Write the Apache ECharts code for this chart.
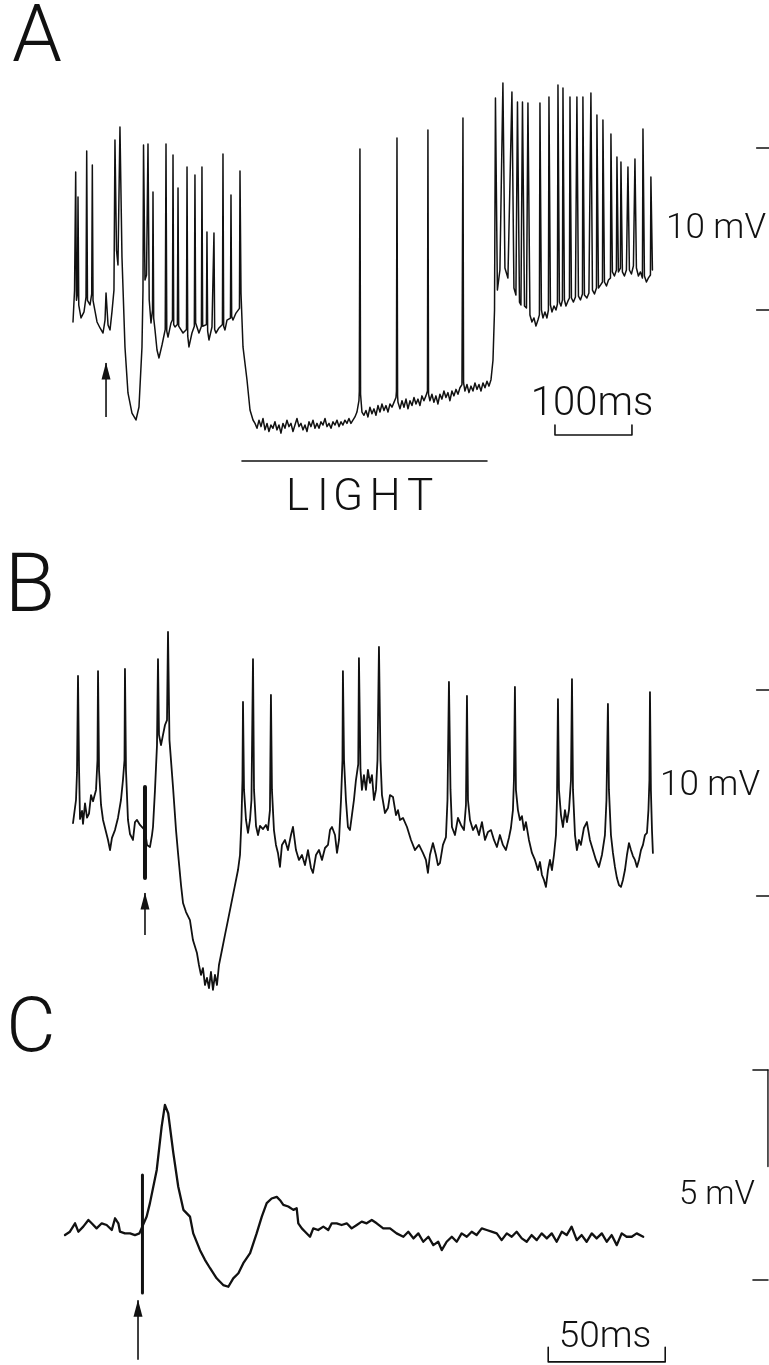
<!DOCTYPE html>
<html>
<head>
<meta charset="utf-8">
<script src="https://cdn.jsdelivr.net/npm/echarts@6/dist/echarts.min.js"></script>
<style>
  html, body { margin: 0; padding: 0; background: #fff; }
  #chart { width: 769px; height: 1365px; }
</style>
</head>
<body>
<div id="chart"></div>
<script>
// ---------- Panel A: membrane potential before, during and after light (t in ms, V in mV) ----------
const traceA = [
  [0,-0.74],[2.0,1.2],[3.5,8.52],[4.5,0.6],[5.8,1.0],[6.5,6.98],[7.5,0.3],[10.4,-0.49],[14.3,-0.12],
  [16.9,0.8],[17.8,9.81],[18.8,0.6],[22.1,0.31],[24.3,1.0],[25.1,8.95],[26.0,0.6],[31.2,-0.74],
  [35.1,-1.11],[39.0,-1.42],[41.6,-0.62],[42.9,1.05],[45.5,-0.93],[48.1,-1.23],[50.6,-0.12],[53.2,1.23],
  [54.5,10.49],[56.5,3.70],[58.4,2.78],[61.0,11.30],[63.6,3.27],[67.5,-2.28],[71.4,-5.12],[76.6,-6.36],
  [81.8,-6.79],[85.7,-5.99],[89.6,-2.28],[90.9,1.23],[91.6,10.19],[93.5,1.85],[95.5,2.16],[97.4,10.25],
  [99.0,0.62],[101.3,-0.80],[103.3,0.0],[103.9,7.28],[104.8,-0.5],[106.5,-1.23],[109.1,-2.47],[111.7,-2.96],
  [115.6,-2.16],[119.8,-1.2],[120.8,10.25],[121.8,-1.3],[123.4,-1.67],[127.3,-0.80],[129.2,-0.6],[129.9,9.57],
  [130.8,-0.9],[132.5,-1.05],[135.6,-0.9],[136.4,7.53],[137.3,-1.0],[139.0,-1.11],[142.9,-1.42],[147.4,-1.2],
  [148.1,8.83],[149.0,-1.6],[150.6,-2.28],[154.5,-1.42],[157.6,-1.0],[158.4,8.33],[159.3,-0.8],[161.0,-0.80],
  [163.6,-1.42],[166.8,-1.0],[167.5,8.83],[168.4,-1.0],[170.1,-1.05],[173.3,-0.9],[174.0,4.81],[174.9,-1.3],
  [176.6,-1.85],[180.5,-1.05],[182.4,-1.0],[183.1,4.75],[184.0,-1.2],[185.7,-1.42],[189.6,-1.11],[194.1,-0.9],
  [194.8,9.63],[195.7,-1.0],[197.4,-1.23],[200.0,-0.62],[204.5,-0.5],[205.2,7.10],[206.1,-0.4],[207.8,-0.62],
  [211.7,-0.19],[216.2,0.1],[216.9,8.58],[218.2,1.05],[220.8,-2.28],[226.0,-4.32],[229.9,-6.17],[233.8,-6.79],
  [236.4,-7.0],[239.0,-7.3],[241.6,-6.8],[244.2,-7.2],[246.8,-6.7],[249.4,-7.4],[252.0,-7.0],[254.5,-7.5],
  [257.1,-7.1],[259.7,-7.3],[262.3,-6.9],[264.9,-7.4],[267.5,-7.1],[270.1,-7.6],[272.7,-7.0],[275.3,-7.3],
  [277.9,-6.8],[280.5,-7.2],[283.1,-7.0],[285.7,-7.5],[288.3,-7.1],[290.9,-6.7],[293.5,-7.2],[296.1,-7.0],
  [298.7,-7.4],[301.3,-7.1],[303.9,-7.5],[306.5,-6.9],[309.1,-7.2],[311.7,-6.8],[314.3,-7.3],[316.9,-7.0],
  [319.5,-7.3],[322.1,-6.9],[324.7,-7.1],[327.3,-6.7],[329.9,-7.2],[332.5,-7.0],[335.1,-7.3],[337.7,-6.9],
  [340.3,-7.1],[342.9,-6.8],[345.5,-7.2],[348.1,-6.9],[350.6,-7.1],[353.2,-6.8],[355.8,-7.0],[358.4,-6.7],
  [361.0,-7.0],[363.6,-6.8],[366.2,-6.6],[368.8,-6.3],[371.4,-5.6],[371.9,-5.0],[372.7,9.94],[373.5,-5.2],
  [375.3,-6.3],[377.9,-6.5],[380.5,-6.2],[383.1,-6.6],[385.7,-6.0],[388.3,-6.4],[390.9,-6.1],[393.5,-6.5],
  [396.1,-5.9],[398.7,-6.3],[401.3,-5.8],[403.9,-6.2],[406.5,-5.9],[409.1,-6.3],[411.7,-5.8],[414.3,-6.0],
  [416.9,-5.7],[419.5,-5.4],[420.1,-5.0],[420.8,10.62],[421.6,-5.3],[422.1,-5.7],[424.7,-6.1],[427.3,-5.6],
  [429.9,-6.0],[432.5,-5.5],[435.1,-6.1],[437.7,-5.6],[440.3,-5.9],[442.9,-5.4],[445.5,-5.8],[448.1,-5.5],
  [450.6,-5.9],[453.2,-5.3],[455.8,-5.6],[458.4,-5.3],[460.4,-5.0],[461.0,11.11],[461.8,-5.2],[463.6,-5.6],
  [466.2,-5.2],[468.8,-5.7],[471.4,-5.3],[474.0,-5.8],[476.6,-5.2],[479.2,-5.5],[481.8,-5.0],[484.4,-5.4],
  [487.0,-5.1],[489.6,-5.6],[492.2,-5.0],[494.8,-5.3],[497.4,-4.9],[500.0,-5.2],[502.6,-4.8],[505.2,-4.6],
  [506.5,11.85],[507.3,-4.5],[509.1,-5.0],[511.7,-4.6],[514.3,-5.1],[516.9,-4.7],[519.5,-5.0],[522.1,-4.5],
  [524.7,-4.9],[527.3,-4.6],[529.9,-5.0],[532.5,-4.5],[535.1,-4.8],[537.7,-4.4],[540.3,-4.7],[542.9,-4.3],
  [545.5,-3.1],[547.5,0.0],[548.7,13.09],[551.2,1.23],[554.5,2.47],[558.4,14.01],[561.0,2.59],[564.9,1.98],
  [570.1,13.46],[572.7,1.36],[575.3,0.93],[577.3,12.84],[579.9,0.49],[581.8,0.31],[583.8,12.84],[586.4,0.25],
  [589.0,0.12],[590.9,12.78],[593.5,-0.31],[596.1,-0.74],[598.7,-0.49],[601.3,-0.99],[603.9,-0.62],[605.8,-0.3],
  [606.5,12.78],[608.4,0.0],[610.4,-0.49],[613.0,-0.12],[615.6,-0.49],[617.5,0.0],[618.2,13.15],[620.1,0.31],
  [622.1,-0.12],[624.7,0.25],[627.3,0],[629.2,0.37],[629.9,13.89],[631.8,0.49],[633.8,0.25],[635.7,0.62],
  [636.4,13.70],[638.3,0.62],[640.3,0.25],[642.9,0.56],[644.8,0.74],[645.5,13.15],[647.4,0.74],[650.0,0.49],
  [652.6,0.80],[653.9,0.86],[654.5,13.15],[656.5,0.86],[659.1,0.62],[661.7,0.99],[662.3,13.15],[664.3,0.93],
  [667.5,0.74],[670.1,1.05],[672.1,1.11],[672.7,13.40],[674.7,1.23],[677.3,0.99],[679.9,1.36],[680.5,12.04],
  [682.5,1.36],[685.1,1.54],[687.7,1.73],[688.3,11.73],[690.3,1.73],[692.9,1.48],[695.5,1.85],[698.1,1.98],
  [698.7,10.86],[700.6,2.35],[703.2,2.10],[705.8,2.47],[706.5,9.44],[708.4,2.35],[711.0,2.59],[711.7,9.14],
  [713.6,2.35],[716.2,2.10],[718.8,2.47],[720.8,8.83],[722.7,2.47],[725.3,2.22],[727.9,2.72],[729.9,9.32],
  [731.8,2.59],[734.4,2.10],[737.0,2.35],[739.6,1.98],[740.3,11.17],[742.2,2.10],[744.8,1.73],[747.4,1.98],
  [750.0,2.16],[750.6,8.21],[752.6,2.47]
];
const stimA = [42.9, -6.6, -3.27];          // time, arrow tail, arrow tip
const lightA = [219.5, 537.7];              // light on / off (ms)
const lightBarV = -9.32;
const voltTicksA = [0, 10];                 // 10 mV calibration
const voltTickSpanA = [888, 904];
const timeBarA = [626, 726];                // 100 ms calibration
const timeBarVA = [-7.72, -7.1];

// ---------- Panel B: response to a single stimulus during spontaneous firing ----------
const traceB = [
  [0,3.54],[3.9,4.66],[5.2,6.0],[6.5,10.68],[7.8,6.3],[9.1,3.74],[11.7,4.13],[13.0,3.5],[15.6,4.5],[18.2,3.8],
  [20.8,4.0],[23.4,4.9],[26.0,4.6],[29.9,5.15],[31.8,6.60],[32.5,10.92],[33.8,6.12],[36.4,4.42],[39.0,3.69],
  [42.9,3.11],[45.5,2.72],[48.1,2.23],[50.6,2.82],[54.5,3.20],[58.4,3.79],[62.3,4.66],[64.9,5.63],[66.9,6.60],
  [67.5,11.02],[68.8,6.12],[71.4,3.69],[74.0,3.01],[77.9,2.72],[80.5,3.59],[83.1,3.69],[87.0,3.45],[90.9,3.30],
  [93.5,3.2],[96.1,2.48],[100.0,2.38],[102.6,2.96],[103.9,3.35],[106.5,5.15],[109.1,7.33],[110.4,11.50],
  [111.7,7.82],[114.3,7.33],[116.9,7.82],[119.5,8.30],[122.1,8.54],[123.4,12.82],[125.3,7.57],[129.9,5.29],
  [133.8,3.20],[136.4,2.09],[140.3,0.53],[142.9,-0.34],[146.8,-0.78],[151.9,-1.17],[155.8,-2.14],[161.0,-2.77],
  [163.6,-3.35],[166.2,-3.83],[168.8,-3.50],[171.4,-4.32],[174.0,-3.98],[176.6,-4.47],[179.2,-3.69],[181.8,-4.56],
  [184.4,-3.83],[187.0,-4.32],[189.6,-3.35],[193.5,-2.62],[197.4,-1.89],[201.3,-1.17],[205.2,-0.44],[210.4,0.53],
  [214.3,1.26],[216.9,1.99],[218.8,3.69],[220.1,5.63],[220.8,9.42],[222.1,5.15],[224.7,3.69],[227.3,3.06],
  [229.9,3.69],[231.8,4.66],[233.8,11.50],[235.1,5.15],[237.7,3.40],[240.3,2.96],[242.9,3.40],[246.8,3.25],
  [250.6,3.45],[253.2,3.20],[255.8,4.17],[257.1,9.76],[258.4,5.15],[261.0,3.20],[263.6,2.48],[266.2,2.09],
  [268.8,1.41],[271.4,2.48],[275.3,2.72],[279.2,2.23],[283.1,2.96],[285.7,3.35],[289.6,2.23],[293.5,1.75],
  [297.4,1.99],[301.3,1.50],[305.2,2.23],[309.1,1.36],[311.7,1.12],[315.6,1.99],[319.5,2.23],[323.4,1.75],
  [327.3,2.33],[331.2,2.48],[333.8,3.20],[336.4,3.35],[340.3,2.96],[342.9,2.09],[345.5,2.72],[348.1,4.66],
  [350.0,6.60],[350.6,10.92],[352.0,6.60],[354.5,4.66],[357.1,3.35],[359.7,3.20],[362.3,3.93],[364.9,4.66],
  [367.5,5.63],[370.5,6.4],[371.4,11.55],[373.4,6.12],[375.3,5.15],[377.9,5.87],[380.5,5.15],[383.1,6.12],
  [385.7,5.49],[388.3,5.87],[390.9,4.66],[393.5,5.15],[395.5,6.60],[397.4,12.09],[399.4,6.60],[401.3,4.90],
  [405.2,4.03],[409.1,4.27],[411.7,4.90],[415.6,4.81],[419.5,3.93],[422.1,4.17],[424.7,3.69],[428.6,3.79],
  [433.8,3.35],[439.0,2.72],[444.2,2.23],[449.4,2.48],[454.5,2.09],[458.4,1.75],[461.0,1.12],[463.6,1.99],
  [467.5,2.57],[471.4,1.99],[474.0,1.50],[476.6,1.60],[480.5,2.48],[484.4,2.86],[486.4,4.66],[488.3,10.39],
  [490.3,5.15],[492.2,3.35],[496.1,2.96],[500.0,3.79],[503.9,3.45],[507.8,3.20],[510.4,4.42],[511.7,9.71],
  [513.0,4.66],[515.6,3.69],[519.5,3.20],[523.4,3.45],[527.3,2.96],[531.2,3.59],[535.1,2.72],[539.0,3.11],
  [542.9,3.20],[546.8,2.72],[550.6,2.38],[554.5,2.96],[558.4,2.48],[562.3,2.23],[566.2,2.82],[568.8,3.30],
  [571.4,4.17],[572.7,5.63],[574.0,10.15],[575.3,5.15],[577.9,4.17],[580.5,3.69],[583.1,3.88],[585.7,3.20],
  [588.3,3.59],[592.2,2.72],[596.1,2.09],[600.0,1.75],[603.9,1.26],[606.5,1.65],[609.1,1.02],[611.7,0.78],
  [614.3,0.44],[616.9,1.26],[619.5,1.75],[622.1,1.26],[624.7,1.99],[627.3,2.96],[628.6,4.66],[629.9,9.56],
  [631.2,5.15],[633.8,3.93],[636.4,3.35],[639.0,4.17],[641.6,3.59],[644.2,4.17],[646.8,5.63],[648.1,10.53],
  [649.4,5.15],[652.0,2.96],[654.5,2.23],[657.1,2.72],[659.7,2.48],[663.6,3.30],[667.5,3.59],[671.4,2.72],
  [675.3,2.23],[679.2,1.75],[683.1,1.41],[687.0,1.99],[690.9,2.96],[692.9,4.66],[694.8,9.32],[696.1,5.15],
  [698.7,2.96],[701.3,2.09],[703.9,1.41],[706.5,0.87],[709.1,0.53],[711.7,0.44],[714.3,0.78],[716.9,1.26],
  [719.5,1.99],[722.1,2.57],[724.7,2.23],[727.3,1.94],[729.9,1.75],[732.5,1.41],[735.1,1.75],[737.7,2.23],
  [740.3,2.48],[742.9,2.96],[745.5,3.06],[747.4,4.17],[748.7,5.63],[749.4,9.90],[750.6,5.15],[752.0,3.20],
  [753.2,2.09]
];
const stimB = [93.5, -1.89, 0.15];           // time, arrow tail, arrow tip
const artifactB = [93.5, 0.87, 5.29];        // stimulus artifact: time, bottom, top
const voltTicksB = [0, 10];
const voltTickSpanB = [888, 904];

// ---------- Panel C: averaged evoked potential ----------
const traceC = [
  [0,1.07],[2.1,1.15],[4.3,1.35],[5.7,1.15],[7.8,1.27],[10.0,1.43],[11.4,1.35],[13.5,1.23],[15.7,1.35],
  [17.8,1.31],[20.0,1.19],[21.4,1.47],[22.8,1.35],[23.5,1.15],[25.6,1.11],[27.8,1.11],[29.9,1.07],[31.8,1.11],
  [34.9,1.51],[36.3,1.83],[39.2,2.62],[41.3,3.65],[42.7,4.17],[44.1,3.97],[46.3,3.02],[48.4,2.22],[50.6,1.67],
  [53.4,1.51],[54.8,1.11],[57.7,0.71],[59.8,0.48],[62.0,0.28],[64.8,0.04],[67.6,-0.12],[69.8,-0.16],[71.9,0.04],
  [74.1,0.16],[76.2,0.40],[79.1,0.64],[81.9,1.11],[84.1,1.51],[86.2,1.83],[88.3,1.94],[90.5,1.98],[91.9,1.90],
  [93.3,1.79],[95.4,1.75],[97.6,1.67],[99.0,1.71],[99.7,1.35],[101.2,1.23],[102.6,1.15],[104.7,1.03],[106.1,1.23],
  [108.2,1.19],[110.4,1.27],[112.5,1.19],[114.0,1.35],[116.1,1.35],[118.2,1.31],[120.4,1.35],[122.5,1.23],
  [124.7,1.31],[126.8,1.39],[128.9,1.35],[131.1,1.43],[133.2,1.35],[136.0,1.23],[138.9,1.23],[141.7,1.11],
  [144.6,1.03],[146.7,1.15],[148.9,0.99],[151.0,1.11],[153.1,0.91],[155.3,1.03],[157.4,0.83],[159.5,0.91],
  [161.0,0.71],[163.1,0.91],[165.3,1.03],[167.4,0.91],[169.5,1.11],[171.7,1.03],[173.8,1.15],[175.9,1.07],
  [178.1,1.23],[180.2,1.19],[182.3,1.15],[184.5,1.11],[186.6,0.95],[188.8,1.11],[190.9,1.03],[193.0,1.15],
  [195.2,0.99],[197.3,0.91],[199.4,1.07],[201.6,0.95],[203.7,1.11],[205.9,0.99],[208.0,1.11],[210.1,0.91],
  [212.3,1.15],[214.4,1.07],[216.5,1.27],[218.7,0.95],[220.8,1.07],[222.9,0.91],[225.1,1.11],[227.2,0.99],
  [229.4,1.11],[231.5,0.91],[233.6,1.07],[235.8,0.83],[237.9,1.11],[240.0,1.03],[242.2,1.03],[244.3,1.11],
  [247.1,1.03]
];
const stimC = [31.2, -1.90, -0.48];
const artifactC = [33.1, -0.31, 2.5];
const voltBarC = [0, 5];                      // 5 mV calibration
const voltBarSpanC = [294, 300.4];
const timeBarC = [206.5, 256.5];             // 50 ms calibration
const timeBarVC = [-1.95, -1.6];

// ---------- drawing ----------
const INK = '#111';
const FONT = 'Roboto, "Open Sans", "DejaVu Sans", sans-serif';

function trace(idx, data, width) {
  return {
    type: 'line', xAxisIndex: idx, yAxisIndex: idx, data: data,
    symbol: 'none', showSymbol: false, silent: true, animation: false, clip: false,
    lineStyle: { color: INK, width: width, join: 'round', cap: 'round' }
  };
}
function arrow(idx, s) {
  return {
    type: 'line', xAxisIndex: idx, yAxisIndex: idx, silent: true, animation: false, clip: false,
    showSymbol: true,
    data: [
      { value: [s[0], s[1]], symbol: 'none' },
      { value: [s[0], s[2]], symbol: 'triangle', symbolSize: [9, 17], symbolOffset: [0, 8] }
    ],
    itemStyle: { color: INK }, lineStyle: { color: INK, width: 1.6 }
  };
}
function bar(idx, t, vLow, vHigh, width) {
  return trace(idx, [[t, vLow], [t, vHigh]], width);
}
function hTick(idx, span, v) {
  return trace(idx, [[span[0], v], [span[1], v]], 1.6);
}
function bracket(idx, span, vs) {
  return trace(idx, [[span[0], vs[1]], [span[0], vs[0]], [span[1], vs[0]], [span[1], vs[1]]], 1.6);
}

const series = [
  trace(0, traceA, 1.5),
  arrow(0, stimA),
  hTick(0, voltTickSpanA, voltTicksA[0]),
  hTick(0, voltTickSpanA, voltTicksA[1]),
  bracket(0, timeBarA, timeBarVA),
  hTick(0, lightA, lightBarV),

  trace(1, traceB, 1.8),
  bar(1, artifactB[0], artifactB[1], artifactB[2], 4),
  arrow(1, stimB),
  hTick(1, voltTickSpanB, voltTicksB[0]),
  hTick(1, voltTickSpanB, voltTicksB[1]),

  trace(2, traceC, 2.3),
  bar(2, artifactC[0], artifactC[1], artifactC[2], 3),
  arrow(2, stimC),
  hTick(2, voltBarSpanC, voltBarC[1]),
  hTick(2, voltBarSpanC, voltBarC[0]),
  trace(2, [[voltBarSpanC[1], voltBarC[1]], [voltBarSpanC[1], 2.7]], 1.4),
  bracket(2, timeBarC, timeBarVC)
];

function hiddenAxis(idx, min, max) {
  return { type: 'value', gridIndex: idx, min: min, max: max, show: false, splitLine: { show: false } };
}

function label(text, x, y, size, align) {
  const a = align || 'center';
  return {
    type: 'text', x: x, y: y, silent: true,
    style: {
      text: text, fill: INK, font: '300 ' + size + 'px ' + FONT,
      align: a, verticalAlign: 'middle', textAlign: a, textVerticalAlign: 'middle'
    }
  };
}

const option = {
  backgroundColor: '#ffffff',
  animation: false,
  grid: [
    { left: 73, top: 67, width: 696, height: 405 },
    { left: 73, top: 607.6, width: 696, height: 412 },
    { left: 65, top: 986, width: 704, height: 378 }
  ],
  xAxis: [hiddenAxis(0, 0, 904), hiddenAxis(1, 0, 904), hiddenAxis(2, 0, 300.85)],
  yAxis: [hiddenAxis(0, -10, 15), hiddenAxis(1, -6, 14), hiddenAxis(2, -2, 7)],
  series: series,
  graphic: [
    label('A', 37, 41, 80),
    label('B', 30, 590, 82),
    label('C', 31, 1032, 76),
    label('10 mV', 716, 229, 35),
    label('100ms', 592, 405, 40),
    label('L', 286, 499, 44, 'left'),
    label('I', 317, 499, 44, 'left'),
    label('G', 333, 499, 44, 'left'),
    label('H', 369.5, 499, 44, 'left'),
    label('T', 407, 499, 44, 'left'),
    label('10 mV', 710, 786, 35),
    label('5 mV', 717, 1196, 33),
    label('50ms', 605, 1338, 37)
  ]
};

const chart = echarts.init(document.getElementById('chart'), null, { renderer: 'canvas' });
chart.setOption(option);
</script>
</body>
</html>
